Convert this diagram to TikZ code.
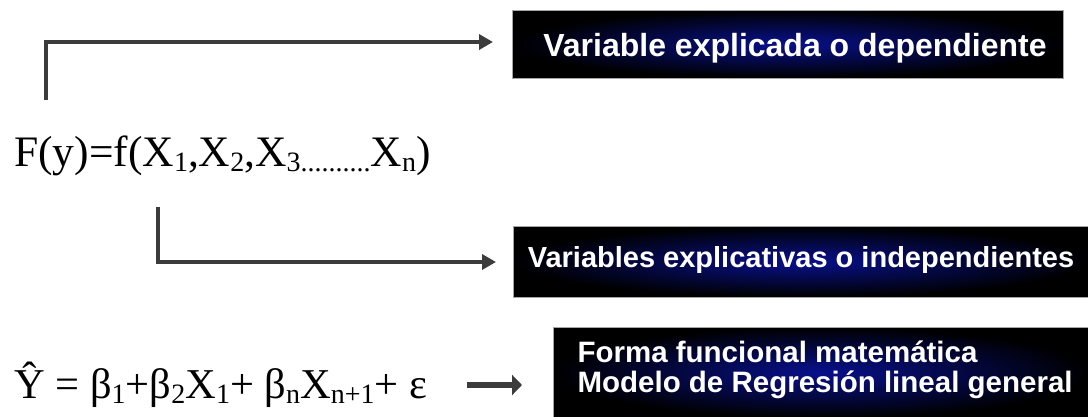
\documentclass[tikz,border=0pt]{standalone}
\usepackage{fontspec}
\setmainfont{Liberation Serif}
\newfontfamily\boxfont{Liberation Sans}
\usetikzlibrary{arrows.meta}
\tikzset{
  darkbox/.style={draw=gray!70, line width=0.8pt, inner color={rgb,255:red,8;green,16;blue,140}, outer color=black, inner sep=0pt},
  boxtext/.style={text=white, font=\boxfont\bfseries\fontsize{#1}{#1}\selectfont},
  conn/.style={draw={rgb,255:red,60;green,60;blue,60}, line width=4pt, -{Triangle[length=14pt,width=15pt]}},
  formula/.style={anchor=base west, inner sep=0pt, font=\fontsize{#1}{#1}\selectfont},
}
\newcommand{\sub}[1]{\raisebox{-0.28ex}{\fontsize{28}{30}\selectfont #1}}
\begin{document}
\begin{tikzpicture}[x=1pt,y=-1pt]
\useasboundingbox (0,0) rectangle (1088,416);
% boxes
\path[darkbox] (512,10) rectangle (1063,78);
\node[boxtext=32] (b1) at (795,48) {Variable explicada o dependiente};
\path[darkbox] (513,226) rectangle (1090,297);
\node[boxtext=29] (b2) at (801,260) {Variables explicativas o independientes};
\path[darkbox] (553,327) rectangle (1090,418);
\node[boxtext=29.5, align=left, anchor=west] (b3) at (574,370) {Forma funcional matemática\\[1pt]Modelo de Regresión lineal general};
% formulas
\node[formula=43.5] (f1) at (14,166) {F(y)=f(X\sub{1},X\sub{2},X\sub{3..........}X\sub{n})};
\node[formula=42.5] (f2) at (14,398) {Ŷ = β\sub{1}+β\sub{2}X\sub{1}+ β\sub{n}X\sub{n+1}+ ε};
% connectors
\coordinate (s1) at (46,100);
\coordinate (e1) at (493,42);
\draw[conn] (s1) |- (e1);
\coordinate (s2) at (158,207);
\coordinate (e2) at (496,262);
\draw[conn, line width=3.5pt] (s2) |- (e2);
\coordinate (s3) at (467,385);
\coordinate (e3) at (522,385);
\draw[conn, line width=6pt, -{Triangle[length=10pt,width=20pt]}] (s3) -- (e3);
\end{tikzpicture}
\end{document}
